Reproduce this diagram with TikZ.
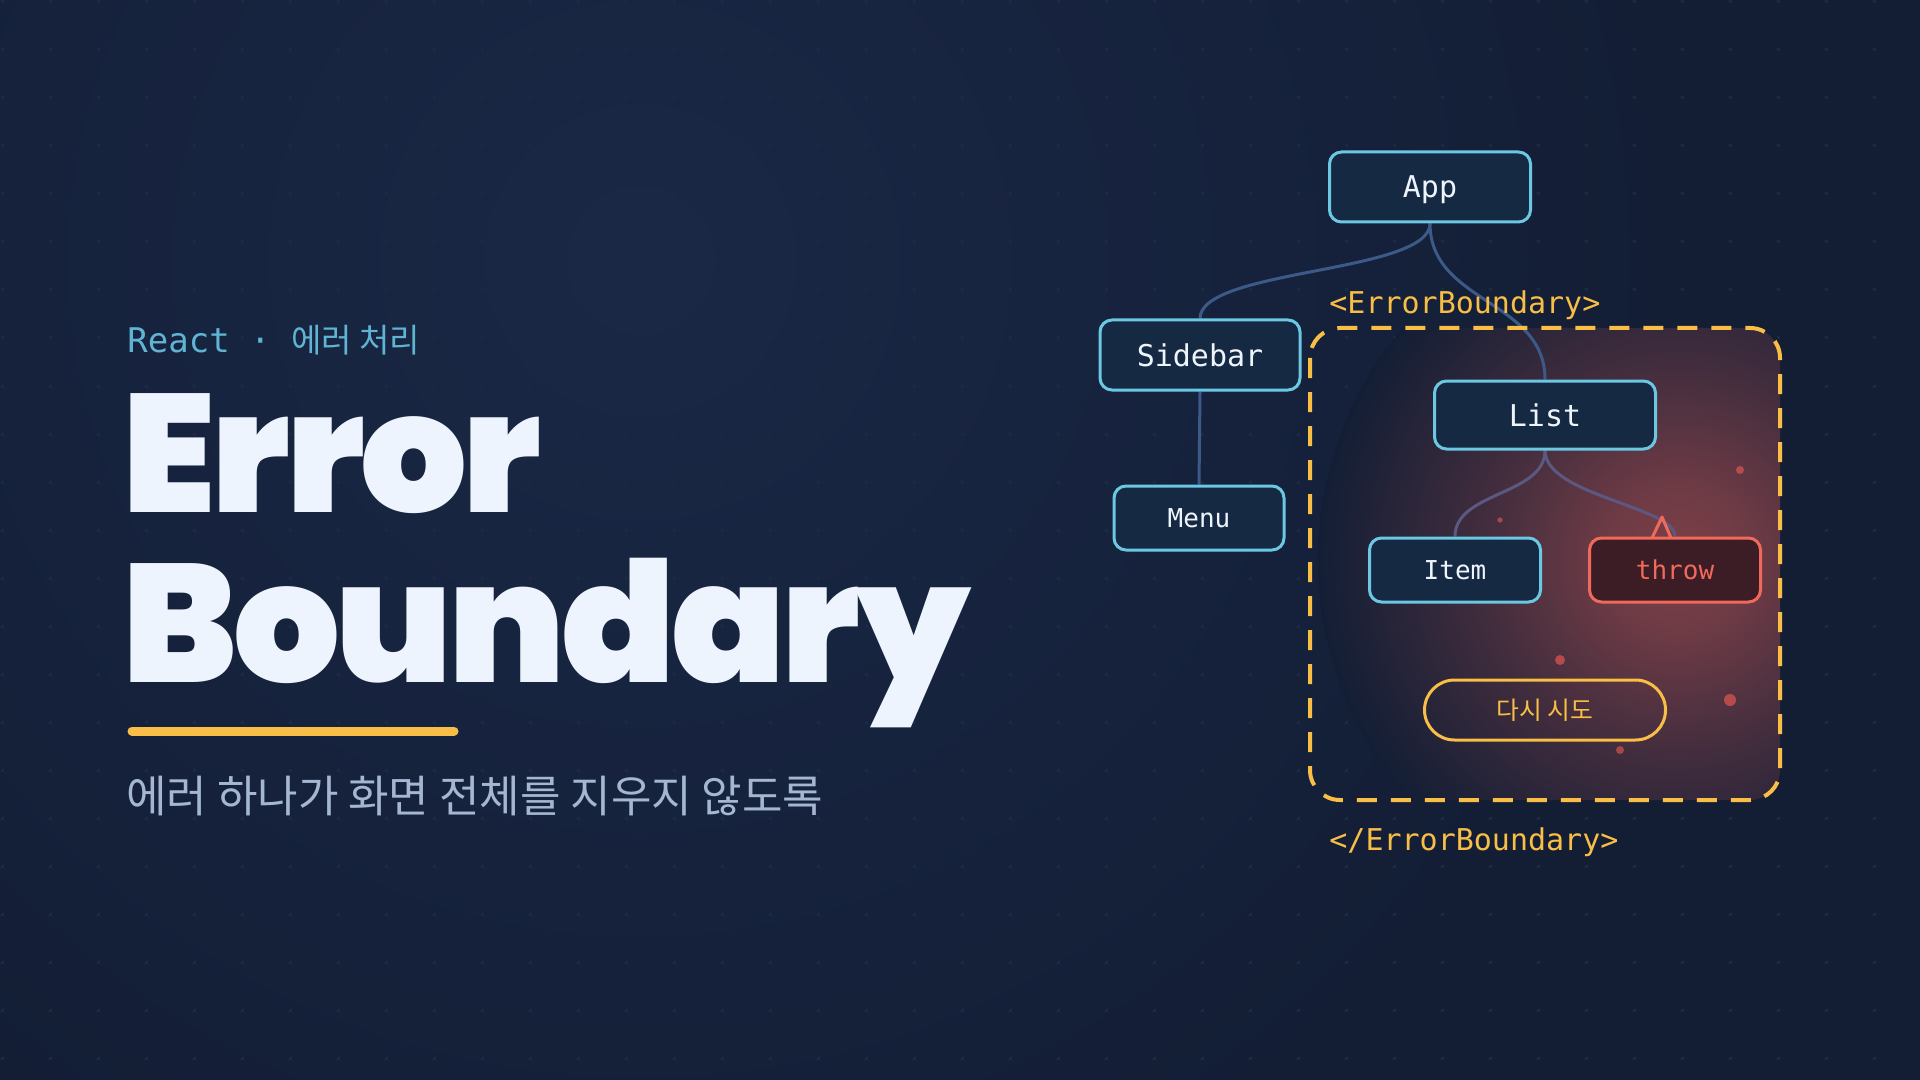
\documentclass[tikz,border=0pt]{standalone}
\usepackage{fontspec}
\setmainfont{DejaVu Sans}
\newfontfamily\monof{DejaVu Sans Mono}
\newfontfamily\krf{Noto Sans CJK KR}
\newfontfamily\titlef{Poppins Black}[LetterSpace=-2.5]
\usetikzlibrary{calc}

\definecolor{bgc}{HTML}{131E35}
\definecolor{bglight}{HTML}{1A2846}
\definecolor{dotc}{HTML}{1C2944}
\definecolor{nodefill}{HTML}{152943}
\definecolor{nodeline}{HTML}{6CC7E2}
\definecolor{nodetext}{HTML}{EEF4FB}
\definecolor{edgec}{HTML}{3C5A87}
\definecolor{edgep}{HTML}{5B5881}
\definecolor{amber}{HTML}{F8BE45}
\definecolor{coral}{HTML}{F0695A}
\definecolor{throwfill}{HTML}{3C1D25}
\definecolor{glowc}{HTML}{7E4048}
\definecolor{reddot}{HTML}{C24E4D}
\definecolor{titlec}{HTML}{EDF4FD}
\definecolor{subc}{HTML}{A4B6D1}
\definecolor{reactc}{HTML}{5FB4D3}

\pgfdeclareradialshading{bgglow}{\pgfpoint{0bp}{0bp}}{color(0bp)=(bglight); color(25bp)=(bgc); color(50bp)=(bgc)}
\pgfdeclareradialshading{redglow}{\pgfpoint{0bp}{0bp}}{color(0bp)=(glowc); color(5bp)=(glowc!85!bgc); color(14bp)=(glowc!42!bgc); color(25bp)=(bgc); color(50bp)=(bgc)}

\pgfdeclarelayer{bglayer}
\pgfdeclarelayer{edgelayer}
\pgfsetlayers{bglayer,edgelayer,main}

\tikzset{
  bignode/.style={draw=nodeline, fill=nodefill, line width=1.5pt, rounded corners=6pt,
    text=nodetext, font=\monof\fontsize{15}{15}\selectfont, inner sep=0pt,
    text height=11pt, text depth=0pt},
  smallnode/.style={bignode, font=\monof\fontsize{13}{13}\selectfont, text height=9.5pt},
  errnode/.style={smallnode, draw=coral, fill=throwfill, text=coral},
  retrybtn/.style={draw=amber, line width=1.5pt, rounded corners=15pt, text=amber,
    font=\krf\fontsize{12.4}{12.4}\selectfont, inner sep=0pt},
  edge/.style={draw=edgec, line width=1.5pt},
  edgeglow/.style={draw=edgep, line width=1.5pt},
  taglabel/.style={anchor=west, inner sep=0pt, text=amber, font=\monof\fontsize{15}{15}\selectfont},
  titletext/.style={anchor=base west, inner sep=0pt, text=titlec, font=\titlef\fontsize{84}{84}\selectfont},
}

\begin{document}
\begin{tikzpicture}[x=0.5pt,y=-0.5pt]
\useasboundingbox (0,0) rectangle (1920,1080);

\begin{pgfonlayer}{bglayer}
  \begin{scope}
    \clip (0,0) rectangle (1920,1080);
    \fill[bgc] (0,0) rectangle (1920,1080);
    \shade[shading=bgglow] (640,260) circle (520pt);
    \foreach \i in {0,...,39}{
      \foreach \j in {0,...,22}{
        \fill[dotc] ({2+48*\i-1.5},{2+48*\j-1.5}) rectangle +(3,3);
      }
    }
    \begin{scope}
      \clip[rounded corners=15pt] (1310,328) rectangle (1780,800);
      \shade[shading=redglow] (1678,560) circle (180pt);
    \end{scope}
  \end{scope}
\end{pgfonlayer}

% left text
\node[anchor=west, inner sep=0pt, text=reactc] (kicker) at (127,340)
  {{\monof\fontsize{17}{17}\selectfont React · }{\krf\fontsize{16.5}{16.5}\selectfont 에러 처리}};
\node[titletext] (title1) at (122,512) {Error};
\node[titletext] (title2) at (122,682) {Boundary};
\draw[amber, line width=4.5pt, line cap=round] (132,731) -- (454,731);
\node[anchor=west, inner sep=0pt, text=subc, font=\krf\fontsize{22}{22}\selectfont] (subtitle) at (126,796)
  {에러 하나가 화면 전체를 지우지 않도록};

% boundary box
\draw[amber, line width=2pt, dash pattern=on 10pt off 7pt, rounded corners=15pt] (1310,328) rectangle (1780,800);
\node[taglabel] (ebopen) at (1329,305) {<ErrorBoundary>};
\node[taglabel] (ebclose) at (1329,842) {</ErrorBoundary>};

% tree nodes
\node[bignode, minimum width=100.5pt, minimum height=35pt] (app) at (1430,187) {App};
\node[bignode, minimum width=100pt, minimum height=35pt] (sidebar) at (1200,355) {Sidebar};
\node[smallnode, minimum width=85pt, minimum height=32pt] (menu) at (1199,518) {Menu};
\node[bignode, minimum width=110.5pt, minimum height=34pt] (list) at (1545,415) {List};
\node[smallnode, minimum width=85.5pt, minimum height=32pt] (item) at (1455,570) {Item};
\node[errnode, minimum width=85.5pt, minimum height=32pt] (throw) at (1675,570) {throw};
\node[retrybtn, minimum width=120.5pt, minimum height=30pt] (retry) at (1545,710) {다시 시도};

% connectors
\begin{pgfonlayer}{edgelayer}
  \draw[edge] (app.south) .. controls +(0,50) and +(0,-50) .. (sidebar.north);
  \draw[edge] (app.south) .. controls +(0,80) and +(0,-80) .. (list.north);
  \draw[edge] (sidebar.south) -- (menu.north);
  \draw[edgeglow] (list.south) .. controls +(0,45) and +(0,-45) .. (item.north);
  \draw[edgeglow] (list.south) .. controls +(0,45) and +(0,-30) .. (throw.north);
\end{pgfonlayer}

% spark caret on throw
\draw[coral, line width=1.5pt, line join=round] (1652,538) -- (1662,517) -- (1671,538);

% red particles
\fill[reddot, opacity=0.9] (1740,470) circle (2pt);
\fill[reddot, opacity=0.8] (1500,520) circle (1.3pt);
\fill[reddot, opacity=0.9] (1560,660) circle (2.5pt);
\fill[reddot, opacity=0.9] (1730,700) circle (3pt);
\fill[reddot, opacity=0.8] (1620,750) circle (2pt);
\end{tikzpicture}
\end{document}
